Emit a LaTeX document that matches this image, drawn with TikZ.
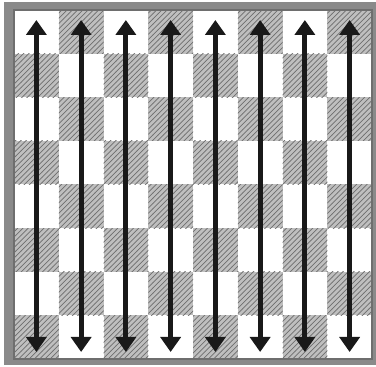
\documentclass[tikz,border=0pt]{standalone}
\usepackage{tikz}
\usetikzlibrary{arrows.meta,patterns}
\tikzset{>={Triangle[length=0.3cm,width=0.4cm]}}
\definecolor{framegray}{RGB}{138,138,138}
\definecolor{edgegray}{RGB}{110,110,110}
\definecolor{hatchgray}{RGB}{110,110,110}
\colorlet{sqlight}{white}
\colorlet{sqdark}{gray!50}
\tikzset{
  darksq/.style={fill=sqdark,postaction={pattern=north east lines,pattern color=hatchgray}},
  runner/.style={<->,line width=0.1cm,black!90}
}
\begin{document}
\begin{tikzpicture}[x=0.02cm,y=-0.02cm]
    \useasboundingbox (0,0) rectangle (376,367);
    % frame and board
    \fill[framegray] (4,2) rectangle (376,365);
    \fill[sqlight] (14,10) rectangle (372,359);
    \foreach \r in {0,...,7}
        \foreach \c in {0,...,7}{
            \pgfmathtruncatemacro{\odd}{mod(\r+\c,2)}
            \ifnum\odd=1
                \path[darksq] ({14+44.75*\c},{10+43.625*\r}) rectangle ({14+44.75*(\c+1)},{10+43.625*(\r+1)});
            \fi
        }
    \draw[edgegray,line width=0.8pt] (14,10) rectangle (372,359);
    % double arrows
    \foreach \c in {0,...,7}{
        \coordinate (top\c) at ({14+44.75*(\c+0.5)},20);
        \coordinate (bot\c) at ({14+44.75*(\c+0.5)},352);
        \draw[runner] (top\c) -- (bot\c);
    }
\end{tikzpicture}
\end{document}
